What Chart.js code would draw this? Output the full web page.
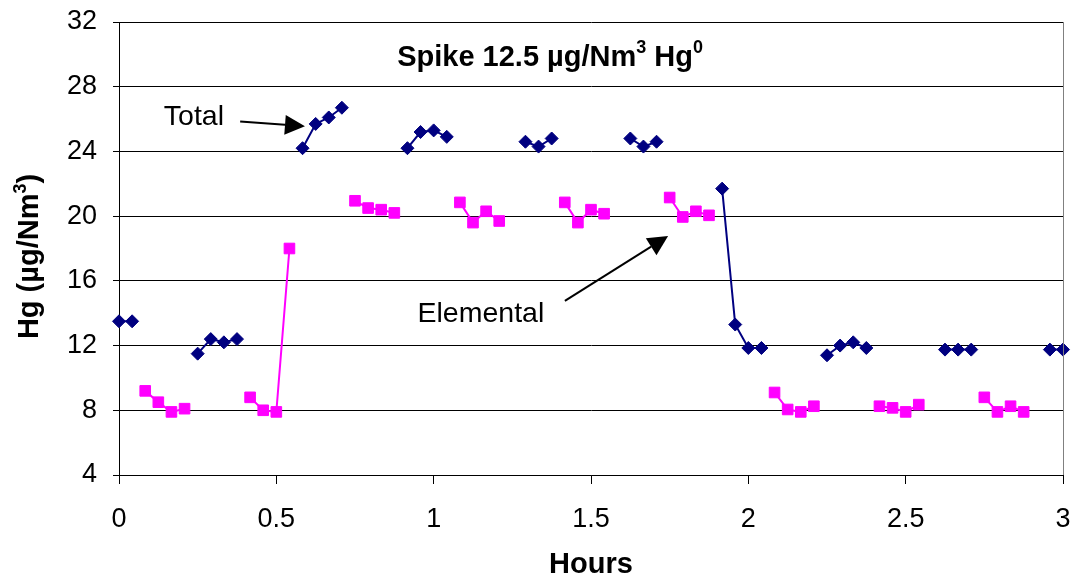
<!DOCTYPE html>
<html>
<head>
<meta charset="utf-8">
<script src="https://cdn.jsdelivr.net/npm/chart.js@4/dist/chart.umd.min.js"></script>
<style>
  html, body { margin: 0; padding: 0; background: #ffffff; }
  #wrap { position: relative; width: 1075px; height: 578px; }
</style>
</head>
<body>
<div id="wrap"><canvas id="c" width="1075" height="578"></canvas></div>
<script>
// Sample times in minutes (converted to hours for the axis)
const minutes = [
  0, 2.5, 5, 7.5, 10, 12.5, 15, 17.5, 20, 22.5,
  25, 27.5, 30, 32.5, 35, 37.5, 40, 42.5, 45, 47.5,
  50, 52.5, 55, 57.5, 60, 62.5, 65, 67.5, 70, 72.5,
  75, 77.5, 80, 82.5, 85, 87.5, 90, 92.5, 95, 97.5,
  100, 102.5, 105, 107.5, 110, 112.5, 115, 117.5, 120, 122.5,
  125, 127.5, 130, 132.5, 135, 137.5, 140, 142.5, 145, 147.5,
  150, 152.5, 155, 157.5, 160, 162.5, 165, 167.5, 170, 172.5,
  175, 177.5, 180
];
// Total Hg (µg/Nm3); null = no measurement (gap)
const totalHg = [
  13.5, 13.5, null, null, null, null, 11.5, 12.4, 12.2, 12.4,
  null, null, null, null, 24.2, 25.7, 26.1, 26.7, null, null,
  null, null, 24.2, 25.2, 25.3, 24.9, null, null, null, null,
  null, 24.6, 24.3, 24.8, null, null, null, null, null, 24.8,
  24.3, 24.6, null, null, null, null, 21.7, 13.3, 11.85, 11.85,
  null, null, null, null, 11.4, 12.0, 12.2, 11.85, null, null,
  null, null, null, 11.75, 11.75, 11.75, null, null, null, null,
  null, 11.75, 11.75
];
// Elemental Hg (µg/Nm3)
const elementalHg = [
  null, null, 9.2, 8.5, 7.9, 8.1, null, null, null, null,
  8.8, 8.0, 7.9, 18.0, null, null, null, null, 20.95, 20.5,
  20.4, 20.2, null, null, null, null, 20.85, 19.6, 20.3, 19.7,
  null, null, null, null, 20.85, 19.6, 20.4, 20.15, null, null,
  null, null, 21.15, 19.95, 20.3, 20.05, null, null, null, null,
  9.1, 8.05, 7.9, 8.25, null, null, null, null, 8.25, 8.15,
  7.9, 8.35, null, null, null, null, 8.8, 7.9, 8.25, 7.9,
  null, null, null
];
const xTicks = [0, 0.5, 1, 1.5, 2, 2.5, 3];
const yTicks = [4, 8, 12, 16, 20, 24, 28, 32];

const FONT = '"Liberation Sans", Arial, Helvetica, sans-serif';

function toPoints(vals) {
  return minutes.map((m, i) => ({ x: m / 60, y: vals[i] }));
}

// draw text made of parts, some superscript; centred at (cx, cy)
function drawRich(ctx, parts, cx, cy, size, weight) {
  const supSize = Math.round(size * 0.62);
  let total = 0;
  const widths = parts.map(p => {
    ctx.font = weight + ' ' + (p.sup ? supSize : size) + 'px ' + FONT;
    const w = ctx.measureText(p.t).width;
    total += w;
    return w;
  });
  let x = cx - total / 2;
  ctx.textBaseline = 'alphabetic';
  ctx.textAlign = 'left';
  const base = cy + size * 0.36;
  parts.forEach((p, i) => {
    ctx.font = weight + ' ' + (p.sup ? supSize : size) + 'px ' + FONT;
    ctx.fillText(p.t, x, p.sup ? base - size * 0.42 : base);
    x += widths[i];
  });
}

function arrow(ctx, x1, y1, x2, y2) {
  const ang = Math.atan2(y2 - y1, x2 - x1);
  const hl = 20, hw = 10;
  const bx = x2 - hl * Math.cos(ang), by = y2 - hl * Math.sin(ang);
  ctx.strokeStyle = '#000';
  ctx.lineWidth = 2;
  ctx.beginPath();
  ctx.moveTo(x1, y1);
  ctx.lineTo(bx, by);
  ctx.stroke();
  ctx.fillStyle = '#000';
  ctx.beginPath();
  ctx.moveTo(x2, y2);
  ctx.lineTo(bx + hw * Math.sin(ang), by - hw * Math.cos(ang));
  ctx.lineTo(bx - hw * Math.sin(ang), by + hw * Math.cos(ang));
  ctx.closePath();
  ctx.fill();
}

// annotation positions in data units (hours, µg/Nm3)
const labelTotal = { x: 0.238, y: 26.12 };
const arrowTotal = { x1: 0.385, y1: 25.85, x2: 0.591, y2: 25.55 };
const labelElemental = { x: 1.15, y: 13.95 };
const arrowElemental = { x1: 1.417, y1: 14.76, x2: 1.745, y2: 18.77 };
const titlePos = { x: 1.37, y: 29.95 };

const decor = {
  id: 'decor',
  afterDatasetsDraw(chart) {
    const ctx = chart.ctx;
    const xs = chart.scales.x, ys = chart.scales.y;
    const a = chart.chartArea;
    ctx.save();
    // right plot border (grey)
    ctx.strokeStyle = '#808080';
    ctx.lineWidth = 1;
    ctx.beginPath();
    ctx.moveTo(Math.round(a.right) + 0.5, a.top);
    ctx.lineTo(Math.round(a.right) + 0.5, a.bottom);
    ctx.stroke();

    ctx.fillStyle = '#000';
    // chart title
    drawRich(ctx, [{ t: 'Spike 12.5 µg/Nm' }, { t: '3', sup: true }, { t: ' Hg' }, { t: '0', sup: true }],
      xs.getPixelForValue(titlePos.x), ys.getPixelForValue(titlePos.y), 29, 'bold');
    // annotations
    ctx.font = '28.5px ' + FONT;
    ctx.textAlign = 'center';
    ctx.textBaseline = 'middle';
    ctx.fillText('Total', xs.getPixelForValue(labelTotal.x), ys.getPixelForValue(labelTotal.y));
    ctx.fillText('Elemental', xs.getPixelForValue(labelElemental.x), ys.getPixelForValue(labelElemental.y));
    arrow(ctx, xs.getPixelForValue(arrowTotal.x1), ys.getPixelForValue(arrowTotal.y1),
      xs.getPixelForValue(arrowTotal.x2), ys.getPixelForValue(arrowTotal.y2));
    arrow(ctx, xs.getPixelForValue(arrowElemental.x1), ys.getPixelForValue(arrowElemental.y1),
      xs.getPixelForValue(arrowElemental.x2), ys.getPixelForValue(arrowElemental.y2));

    // axis titles
    ctx.fillStyle = '#000';
    drawRich(ctx, [{ t: 'Hours' }], (a.left + a.right) / 2, 563, 29, 'bold');
    ctx.save();
    ctx.translate(28, (a.top + a.bottom) / 2 + 8);
    ctx.rotate(-Math.PI / 2);
    drawRich(ctx, [{ t: 'Hg (µg/Nm' }, { t: '3', sup: true }, { t: ')' }], 0, 0, 29, 'bold');
    ctx.restore();
    ctx.restore();
  }
};

new Chart(document.getElementById('c'), {
  type: 'line',
  data: {
    datasets: [
      {
        label: 'Total',
        data: toPoints(totalHg),
        borderColor: '#000080',
        backgroundColor: '#000080',
        borderWidth: 2,
        pointStyle: 'rectRot',
        pointRadius: 6.5,
        pointBorderWidth: 1,
        pointHoverRadius: 6.5,
        tension: 0,
        spanGaps: false,
        clip: false
      },
      {
        label: 'Elemental',
        data: toPoints(elementalHg),
        borderColor: '#FF00FF',
        backgroundColor: '#FF00FF',
        borderWidth: 2,
        pointStyle: 'rect',
        pointRadius: 7.5,
        pointBorderWidth: 1,
        pointHoverRadius: 7.5,
        tension: 0,
        spanGaps: false,
        clip: false
      }
    ]
  },
  options: {
    responsive: false,
    animation: false,
    events: [],
    layout: { padding: { left: 0, right: 12, top: 22, bottom: 0 } },
    plugins: { legend: { display: false }, title: { display: false }, tooltip: { enabled: false } },
    scales: {
      x: {
        type: 'linear',
        min: 0, max: 3,
        afterFit(s) { s.height = 103; s.paddingLeft = 0; s.paddingRight = 0; },
        afterBuildTicks(s) { s.ticks = xTicks.map(v => ({ value: v })); },
        grid: { drawOnChartArea: false, drawTicks: true, tickLength: 9, color: '#000', lineWidth: 1 },
        border: { display: true, color: '#000', width: 1 },
        ticks: { color: '#000', font: { family: FONT, size: 27 }, padding: 19, maxRotation: 0,
                 callback: v => String(v) }
      },
      y: {
        type: 'linear',
        min: 4, max: 32,
        afterFit(s) { s.width = 119; s.paddingTop = 0; s.paddingBottom = 0; },
        afterBuildTicks(s) { s.ticks = yTicks.map(v => ({ value: v })); },
        grid: { drawOnChartArea: true, drawTicks: true, tickLength: 6, color: '#000', lineWidth: 1 },
        border: { display: true, color: '#000', width: 1 },
        ticks: { color: '#000', font: { family: FONT, size: 27 }, padding: 16,
                 callback: v => String(v) }
      }
    }
  },
  plugins: [decor]
});
</script>
</body>
</html>
